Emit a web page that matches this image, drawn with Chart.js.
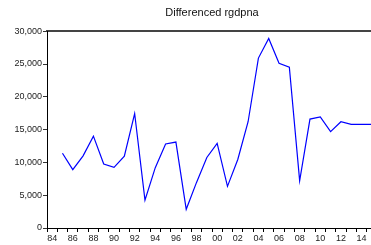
<!DOCTYPE html>
<html>
<head>
<meta charset="utf-8">
<script src="https://cdn.jsdelivr.net/npm/chart.js@4/dist/chart.umd.min.js"></script>
<style>
  html, body { margin: 0; padding: 0; background: #fff; overflow: hidden; }
  #myChart { display: block; }
</style>
</head>
<body>
<canvas id="myChart" width="378" height="245"></canvas>
<script>
const years = [1985, 1986, 1987, 1988, 1989, 1990, 1991, 1992, 1993, 1994,
  1995, 1996, 1997, 1998, 1999, 2000, 2001, 2002, 2003, 2004,
  2005, 2006, 2007, 2008, 2009, 2010, 2011, 2012, 2013, 2014, 2015];
const diffRgdpna = [11400, 8900, 11000, 14000, 9750, 9250, 10950, 17450, 4250, 9200,
  12800, 13100, 2850, 6950, 10750, 12900, 6350, 10450, 16200, 25900,
  28900, 25100, 24500, 7200, 16600, 16950, 14700, 16200, 15800, 15800, 15800];
const firstYear = 1984;
const lastYear = 2015;
const yTicks = [0, 5000, 10000, 15000, 20000, 25000, 30000];

const FONT = 'Liberation Sans, Arial, sans-serif';

const data = {
    datasets: [
        {
            label: 'Differenced rgdpna',
            data: years.map((y, i) => ({ x: y, y: diffRgdpna[i] })),
            borderColor: '#0000ff',
            borderWidth: 1.2,
            pointRadius: 0,
            tension: 0,
            fill: false,
        }
    ]
};

const config = {
    type: 'line',
    data: data,
    options: {
        responsive: false,
        animation: false,
        devicePixelRatio: 1,
        layout: { padding: 0 },
        plugins: {
            legend: { display: false },
            tooltip: { enabled: false },
            title: {
                display: true,
                text: 'Differenced rgdpna',
                fullSize: false,
                color: '#111',
                font: { family: FONT, size: 11, weight: 'normal' },
                padding: { top: 6, bottom: 12 }
            }
        },
        scales: {
            x: {
                type: 'linear',
                min: firstYear - 0.5,
                max: lastYear + 0.5,
                afterBuildTicks: (scale) => {
                    // tick marks on year boundaries
                    const t = [];
                    for (let y = firstYear; y <= lastYear + 1; y++) t.push({ value: y - 0.5 });
                    scale.ticks = t;
                },
                afterFit: (scale) => { scale.height = 17; },
                grid: {
                    drawOnChartArea: false,
                    drawTicks: true,
                    tickLength: 4,
                    color: '#000',
                },
                border: { color: '#000', width: 1 },
                ticks: {
                    autoSkip: false,
                    maxRotation: 0,
                    padding: 1,
                    labelOffset: 5.15,
                    color: '#222',
                    font: { family: FONT, size: 9 },
                    callback: (v) => {
                        const yr = Math.round(v + 0.5);
                        if (yr > lastYear || yr % 2 !== 0) return '';
                        return String(yr % 100).padStart(2, '0');
                    }
                }
            },
            xTop: {
                type: 'linear',
                position: 'top',
                min: firstYear - 0.5,
                max: lastYear + 0.5,
                afterFit: (scale) => { scale.height = 0; },
                grid: { display: false, drawTicks: false },
                ticks: { display: false },
                border: { color: '#444', width: 2 },
            },
            y: {
                type: 'linear',
                min: 0,
                max: 30000,
                afterBuildTicks: (scale) => {
                    scale.ticks = yTicks.map(v => ({ value: v }));
                },
                afterFit: (scale) => { scale.width = 47; },
                grid: {
                    drawOnChartArea: false,
                    drawTicks: true,
                    tickLength: 4,
                    color: '#333',
                },
                border: { color: '#000', width: 1 },
                ticks: {
                    padding: 1,
                    color: '#222',
                    font: { family: FONT, size: 9 },
                    callback: (v) => v.toLocaleString('en-US')
                }
            }
        }
    }
};

const myChart = new Chart(
    document.getElementById('myChart'),
    config
);
</script>
</body>
</html>
